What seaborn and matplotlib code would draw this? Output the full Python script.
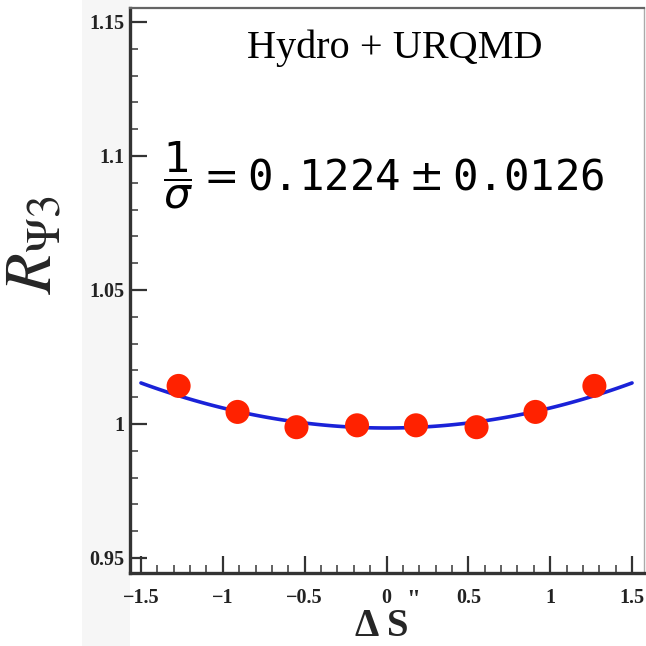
import numpy as np
import pandas as pd
import matplotlib
matplotlib.use("Agg")
import matplotlib.pyplot as plt
from matplotlib.patches import Rectangle
import seaborn as sns

# data
delta_s = [-1.27, -0.91, -0.55, -0.18, 0.18, 0.55, 0.91, 1.27]
r_psi3 = [1.0142, 1.0045, 0.9988, 0.9995, 0.9995, 0.9988, 1.0045, 1.0142]

# fit curve parameters (R = a + b * dS^2)
fit_a = 0.9985
fit_b = 0.00747
fit_range = [-1.5, 1.5]

x_ticks = [-1.5, -1, -0.5, 0, 0.5, 1, 1.5]
x_ticklabels = ["\u22121.5", "\u22121", "\u22120.5", "0", "0.5", "1", "1.5"]
y_ticks = [0.95, 1.0, 1.05, 1.1, 1.15]
y_ticklabels = ["0.95", "1", "1.05", "1.1", "1.15"]

sns.set_theme(style="white")
plt.rcParams["font.family"] = ["Liberation Serif", "DejaVu Serif"]

fig = plt.figure(figsize=(6.46, 6.46), dpi=100)
fig.patches.append(Rectangle((82 / 646, 0), (130 - 82) / 646, 1, transform=fig.transFigure,
                             facecolor="#f6f6f6", edgecolor="none", zorder=-5))
ax = fig.add_axes([130 / 646, 73 / 646, 514 / 646, 565 / 646])

df = pd.DataFrame({"dS": delta_s, "R": r_psi3})
xf = np.linspace(fit_range[0], fit_range[1], 121)
fit_df = pd.DataFrame({"dS": xf, "R": fit_a + fit_b * xf ** 2})

sns.lineplot(data=fit_df, x="dS", y="R", ax=ax, color="#1a22d8", linewidth=2.6, zorder=2)
sns.scatterplot(data=df, x="dS", y="R", ax=ax, color="#ff2200", s=300,
                edgecolor="none", zorder=3)

ax.set_xlim(-1.567, 1.573)
ax.set_ylim(0.9444, 1.1552)
ax.set_xticks(x_ticks)
ax.set_xticklabels(x_ticklabels)
ax.set_yticks(y_ticks)
ax.set_yticklabels(y_ticklabels)
ax.set_xticks(np.arange(-1.5, 1.51, 0.1), minor=True)
ax.set_yticks(np.arange(0.95, 1.151, 0.01), minor=True)
ax.tick_params(which="major", direction="in", length=12, width=1.6, color="#333333",
               labelsize=14.5, bottom=True, left=True, top=False, right=False)
ax.tick_params(axis="x", which="major", pad=11)
ax.tick_params(axis="y", which="major", pad=4)
ax.tick_params(which="minor", direction="in", length=6, width=1.3, color="#555555",
               bottom=True, left=True, top=False, right=False)
for lab in ax.get_xticklabels() + ax.get_yticklabels():
    lab.set_fontweight("bold")
    lab.set_color("#222222")

for side in ["left", "bottom"]:
    ax.spines[side].set_linewidth(2.4)
    ax.spines[side].set_color("#333333")
ax.spines["top"].set_linewidth(1.6)
ax.spines["top"].set_color("#666666")
ax.spines["right"].set_linewidth(1.0)
ax.spines["right"].set_color("#aaaaaa")

ax.set_xlabel("")
ax.set_ylabel("")

ax.text(0.516, 0.929, "Hydro + URQMD", transform=ax.transAxes, ha="center", va="center",
        fontsize=29, color="black")
ax.text(0.064, 0.704, r"$\dfrac{1}{\sigma} = \mathtt{0.1224} \pm \mathtt{0.0126}$",
        transform=ax.transAxes, ha="left", va="center", fontsize=30.5, color="black",
        math_fontfamily="dejavusans")

fig.text(35 / 646, 1 - 245 / 646, r"$R_{\Psi 3}$", rotation=90, ha="center", va="center",
         fontsize=48, math_fontfamily="stix")
fig.text(382 / 646, 1 - 626 / 646, "\u0394 S", ha="center", va="center", fontsize=28,
         fontweight="bold")
fig.text(413 / 646, 1 - 601 / 646, '"', ha="center", va="center", fontsize=18,
         fontweight="bold")

fig.savefig("out.png", dpi=100)
